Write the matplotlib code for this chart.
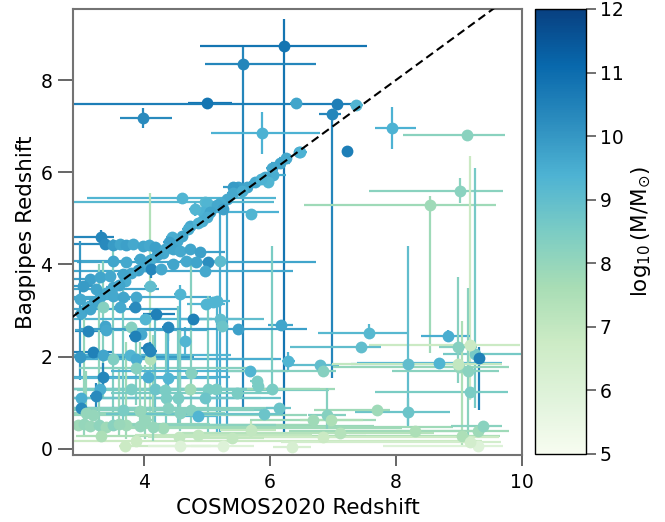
import numpy as np
import matplotlib
matplotlib.use("Agg")
import matplotlib.pyplot as plt
from matplotlib.colors import Normalize
from matplotlib.cm import ScalarMappable

# ---------------- data ----------------
# COSMOS2020 photometric redshift
cosmos_z = [
    # isolated / high-z sources
    6.22, 5.57, 5.00, 7.06, 7.37, 6.98, 3.98, 6.41, 5.87, 6.46, 7.22, 7.94, 9.13, 9.02, 8.54, 5.70, 4.97, 4.60, 9.25, 9.17, 4.10,
    # one-to-one sequence
    6.48, 6.16, 6.03, 6.05, 5.92, 5.97, 5.76, 5.63, 5.49, 5.41,
    5.41, 5.32, 5.21, 5.00, 4.94, 4.92, 4.81, 5.16, 5.05, 5.00,
    4.73, 4.70, 4.60, 4.52, 4.45, 4.40, 4.30, 4.20, 4.10, 4.00,
    3.90, 3.80, 3.70, 3.60, 3.50, 3.40, 3.30, 3.20, 3.10, 3.00,
    5.85, 6.25, 5.55, 5.25, 4.85,
    # dense band 2.2 < z_bp < 4.6
    3.32, 3.38, 3.50, 3.62, 3.72, 3.83, 3.98, 4.08, 4.17, 4.33,
    4.46, 4.57, 4.73, 4.89, 5.02, 5.21, 3.51, 3.71, 3.94, 4.11,
    4.27, 4.46, 4.67, 4.83, 4.97, 3.14, 3.30, 3.46, 3.67, 3.03,
    3.24, 3.51, 3.67, 3.87, 4.10, 2.98, 3.14, 3.35, 3.62, 3.86,
    4.19, 4.57, 4.78, 4.38, 4.02, 3.79, 5.21, 4.98, 3.11, 3.38,
    3.95, 4.65, 5.10, 5.16, 5.24, 4.06, 3.86, 3.40,
    # low bagpipes z, low cosmos z
    2.99, 3.19, 3.35, 3.51, 3.78, 3.87, 4.10, 3.87, 3.35, 4.06,
    4.38, 4.75, 3.30, 3.79, 4.17, 4.33, 4.73, 5.02, 5.14, 3.00,
    3.24, 4.35, 4.54, 4.97, 3.00, 3.67, 3.94, 4.38, 4.57, 4.75,
    4.86, 3.08, 3.19, 3.71, 3.94, 4.02, 2.95, 3.05, 3.15, 3.28,
    3.40, 3.50, 3.60, 3.32, 3.70, 3.87, 4.56, 4.86, 4.57, 5.25,
    4.30, 4.15,
    # low bagpipes z, high cosmos z
    7.57, 7.44, 8.19, 8.83, 8.68, 8.98, 9.32, 9.00, 9.14, 9.17,
    8.19, 7.70, 8.30, 9.05, 9.30, 9.38, 9.30, 6.90, 6.68, 6.97,
    7.11, 6.84, 6.35, 6.29, 6.17, 6.14, 5.90, 6.03, 5.79, 5.81,
    5.68, 6.79, 6.84, 5.70, 5.40, 5.49, 5.48, 8.98, 9.17,
]
# Bagpipes redshift
bagpipes_z = [
    8.73, 8.34, 7.50, 7.48, 7.45, 7.27, 7.18, 7.50, 6.85, 6.44, 6.47, 6.96, 6.81, 5.60, 5.28, 5.09, 5.35, 5.45, 2.05, 2.26, 1.96,
    6.44, 6.20, 6.10, 5.95, 5.90, 5.78, 5.78, 5.69, 5.67, 5.69,
    5.56, 5.41, 5.34, 5.34, 5.13, 4.94, 5.20, 5.30, 5.13, 5.02,
    4.83, 4.76, 4.62, 4.50, 4.60, 4.48, 4.25, 4.20, 4.10, 3.97,
    3.88, 3.82, 3.65, 3.55, 3.52, 3.38, 3.30, 3.18, 3.08, 2.95,
    5.85, 6.30, 5.60, 5.20, 4.90,
    4.59, 4.44, 4.42, 4.44, 4.43, 4.44, 4.40, 4.42, 4.37, 4.33,
    4.33, 4.29, 4.33, 4.27, 4.05, 4.07, 4.07, 4.05, 4.12, 3.90,
    3.90, 4.00, 4.07, 4.05, 3.86, 3.69, 3.73, 3.75, 3.79, 3.53,
    3.47, 3.32, 3.30, 3.30, 3.53, 3.25, 3.04, 3.08, 3.08, 3.08,
    2.93, 3.36, 2.82, 2.65, 2.82, 2.65, 2.82, 3.15, 2.56, 2.67,
    2.50, 2.35, 3.19, 3.21, 2.67, 2.18, 2.46, 2.57,
    2.00, 2.11, 2.03, 1.96, 2.03, 1.96, 2.13, 1.75, 1.57, 1.57,
    1.53, 1.64, 1.31, 1.31, 1.31, 1.27, 1.31, 1.31, 1.31, 1.10,
    1.14, 1.10, 1.10, 1.10, 0.88, 0.84, 0.82, 0.88, 0.78, 0.84,
    0.71, 0.78, 0.73, 0.52, 0.50, 0.62, 0.52, 0.55, 0.50, 0.52,
    0.48, 0.52, 0.55, 0.28, 0.06, 0.17, 0.26, 0.30, 0.06, 0.06,
    0.45, 0.48,
    2.52, 2.22, 1.85, 2.44, 1.87, 2.22, 1.98, 1.77, 1.70, 1.23,
    0.80, 0.84, 0.39, 0.28, 0.39, 0.50, 0.06, 0.73, 0.62, 0.62,
    0.35, 0.26, 0.04, 1.90, 2.69, 0.88, 0.75, 1.31, 1.47, 1.36,
    1.70, 1.81, 1.68, 0.41, 0.24, 2.61, 1.21, 1.85, 0.15,
]
# COSMOS2020 redshift errors (lower / upper)
cosmos_err_lo = [
    1.33, 0.60, 0.30, 4.50, 0.10, 0.20, 0.36, 0.10, 0.81, 0.05, 0.00, 0.27, 1.02, 1.45, 2.00, 0.00, 2.20, 1.50, 0.50, 1.60, 1.20,
    0.10, 0.15, 0.10, 0.20, 0.10, 0.10, 0.10, 0.10, 0.10, 0.15,
    0.10, 0.10, 0.10, 0.10, 0.10, 0.10, 0.10, 0.10, 0.10, 0.10,
    0.10, 0.10, 0.10, 0.10, 0.10, 0.10, 0.10, 0.10, 0.10, 0.10,
    0.10, 0.10, 0.10, 0.10, 0.10, 0.10, 0.10, 0.10, 0.10, 0.10,
    0.10, 0.10, 0.10, 0.10, 0.10,
    0.50, 0.60, 0.10, 0.10, 0.10, 0.10, 0.10, 0.10, 0.10, 0.10,
    0.10, 0.10, 0.10, 0.10, 0.10, 0.10, 0.70, 0.10, 0.10, 0.10,
    0.10, 0.10, 0.10, 1.90, 2.10, 0.30, 0.10, 0.10, 0.10, 0.20,
    0.40, 0.10, 0.10, 1.00, 0.10, 0.30, 0.30, 0.10, 0.10, 0.10,
    0.20, 0.10, 0.20, 0.10, 1.20, 0.10, 0.50, 0.30, 0.20, 0.10,
    0.10, 0.10, 0.10, 0.20, 0.10, 0.10, 0.10, 0.50,
    0.20, 0.30, 0.50, 0.10, 0.90, 0.90, 0.10, 0.90, 0.10, 1.20,
    1.50, 0.10, 0.60, 0.90, 0.10, 1.40, 0.50, 0.10, 2.30, 0.20,
    0.10, 1.50, 0.10, 2.10, 0.20, 0.80, 0.10, 1.50, 0.10, 1.90,
    0.30, 0.20, 0.30, 0.80, 1.00, 0.10, 0.10, 0.10, 0.10, 0.10,
    0.50, 0.10, 0.10, 0.40, 0.10, 1.00, 0.50, 1.00, 0.50, 0.50,
    1.40, 0.10,
    0.81, 1.12, 0.90, 0.43, 1.30, 0.30, 0.05, 2.00, 1.20, 1.50,
    0.84, 1.00, 1.50, 1.80, 3.00, 0.50, 1.50, 0.30, 1.00, 0.50,
    2.50, 1.80, 0.30, 0.10, 0.20, 0.20, 2.50, 0.10, 0.10, 0.10,
    2.20, 0.50, 1.50, 0.50, 0.50, 2.50, 2.00, 2.00, 3.00,
]
cosmos_err_hi = [
    1.32, 1.16, 0.40, 0.30, 0.10, 0.15, 0.46, 0.10, 0.93, 0.05, 0.00, 0.38, 0.60, 0.68, 1.05, 0.00, 1.10, 1.50, 0.80, 0.80, 2.00,
    0.10, 0.15, 0.10, 0.20, 0.10, 0.10, 0.10, 0.10, 0.10, 0.10,
    0.10, 0.10, 0.10, 0.10, 1.20, 0.10, 0.10, 0.10, 0.10, 0.10,
    0.10, 0.10, 0.10, 0.10, 0.10, 0.10, 0.10, 0.10, 0.10, 0.10,
    0.10, 0.10, 0.10, 0.10, 0.10, 0.10, 0.10, 0.10, 0.10, 0.10,
    0.10, 0.10, 0.10, 0.10, 0.10,
    0.20, 0.30, 0.10, 0.10, 0.10, 0.10, 0.10, 0.10, 0.10, 0.10,
    0.10, 0.10, 0.10, 0.40, 0.20, 0.10, 0.20, 0.10, 0.10, 0.10,
    0.10, 0.10, 0.10, 1.90, 1.40, 0.30, 0.10, 0.10, 0.10, 0.20,
    1.00, 0.10, 0.10, 1.20, 0.10, 0.80, 1.40, 0.10, 0.10, 0.10,
    0.30, 0.10, 0.30, 0.10, 1.50, 0.10, 0.70, 0.30, 0.20, 0.10,
    0.10, 0.10, 0.10, 0.20, 0.10, 0.10, 0.10, 1.60,
    1.80, 0.30, 1.30, 0.10, 1.60, 2.30, 0.10, 1.80, 0.10, 1.30,
    0.80, 0.10, 2.90, 3.00, 0.10, 2.60, 2.30, 0.10, 0.50, 2.50,
    0.10, 1.50, 0.10, 1.20, 1.50, 2.20, 0.10, 1.80, 0.10, 1.00,
    0.30, 2.20, 3.40, 3.00, 1.50, 0.10, 3.80, 2.00, 4.50, 0.10,
    5.50, 2.60, 0.10, 4.20, 1.50, 5.50, 2.50, 1.80, 0.50, 0.50,
    3.80, 0.10,
    0.60, 0.32, 0.79, 0.35, 1.00, 0.30, 0.05, 0.80, 0.50, 0.60,
    0.67, 0.20, 1.00, 0.60, 0.50, 0.30, 0.40, 0.30, 1.00, 0.50,
    1.50, 2.80, 0.30, 0.10, 0.20, 0.20, 0.30, 0.10, 0.10, 0.10,
    0.60, 0.30, 0.20, 0.40, 0.50, 1.10, 0.50, 0.70, 0.50,
]
# Bagpipes redshift errors (lower / upper)
bagpipes_err_lo = [
    8.49, 7.46, 0.05, 0.05, 0.05, 5.74, 0.22, 0.05, 0.45, 0.05, 0.00, 0.45, 0.05, 0.27, 3.20, 0.00, 0.10, 0.05, 1.17, 1.20, 1.50,
    0.08, 0.10, 0.10, 0.10, 0.10, 0.10, 0.10, 0.10, 0.10, 0.10,
    0.10, 5.00, 5.00, 0.10, 0.10, 0.10, 0.15, 0.10, 0.10, 0.10,
    0.10, 0.10, 0.10, 0.10, 0.10, 0.10, 0.10, 0.10, 0.10, 0.10,
    0.10, 0.10, 0.10, 0.10, 0.10, 0.10, 0.10, 0.10, 0.10, 0.10,
    0.10, 0.10, 0.10, 0.10, 0.10,
    0.15, 0.10, 0.10, 0.10, 0.10, 0.10, 0.10, 0.10, 0.10, 0.10,
    0.10, 0.10, 0.10, 0.10, 0.10, 0.10, 0.10, 0.10, 0.10, 0.20,
    0.10, 0.10, 0.10, 0.10, 0.10, 0.10, 0.10, 0.10, 0.10, 0.10,
    0.10, 0.10, 0.10, 0.10, 0.10, 0.10, 0.10, 2.00, 0.10, 0.10,
    0.10, 2.50, 0.10, 0.30, 0.10, 0.10, 0.10, 0.10, 0.10, 0.10,
    0.10, 0.30, 0.10, 2.90, 0.10, 0.10, 0.10, 0.10,
    0.50, 0.10, 0.10, 1.40, 0.10, 0.10, 0.30, 0.80, 0.20, 0.10,
    0.80, 1.20, 0.10, 0.10, 0.80, 0.10, 0.10, 1.00, 0.10, 0.10,
    0.30, 0.60, 0.60, 0.10, 0.10, 0.40, 0.30, 0.10, 0.40, 0.10,
    0.10, 0.30, 0.10, 0.30, 0.10, 0.40, 0.10, 0.30, 0.10, 0.30,
    0.10, 0.10, 0.30, 0.10, 0.05, 0.10, 0.10, 0.10, 0.05, 0.05,
    0.10, 0.30,
    0.10, 0.05, 1.33, 0.05, 0.05, 0.80, 1.14, 0.05, 1.50, 0.10,
    0.30, 0.05, 0.05, 0.20, 0.10, 0.10, 0.05, 0.30, 0.05, 0.05,
    0.10, 0.05, 0.04, 0.20, 0.05, 0.10, 0.10, 0.10, 0.10, 0.10,
    0.05, 0.05, 0.05, 0.20, 0.05, 0.05, 0.05, 0.05, 0.05,
]
bagpipes_err_hi = [
    0.60, 0.37, 0.05, 0.05, 0.05, 0.05, 0.22, 0.05, 0.45, 0.05, 0.00, 0.45, 0.05, 0.27, 0.20, 0.00, 0.10, 0.05, 4.05, 4.10, 3.60,
    0.08, 0.10, 0.10, 0.10, 0.10, 0.10, 0.10, 0.10, 0.10, 0.10,
    0.10, 0.10, 0.10, 0.10, 0.10, 0.10, 0.15, 0.10, 0.10, 0.10,
    0.10, 0.10, 0.10, 0.10, 0.10, 0.10, 0.10, 0.10, 0.10, 0.10,
    0.10, 0.10, 0.10, 0.10, 0.10, 0.10, 0.10, 0.10, 0.10, 0.10,
    0.10, 0.10, 0.10, 0.10, 0.10,
    0.15, 0.10, 0.10, 0.10, 0.10, 0.10, 0.10, 0.10, 0.10, 0.10,
    0.10, 0.10, 0.10, 0.10, 0.10, 0.10, 0.10, 0.10, 0.10, 0.20,
    0.10, 0.10, 0.10, 0.10, 0.10, 0.10, 0.10, 0.10, 0.10, 0.10,
    0.10, 0.10, 0.10, 0.10, 0.10, 0.10, 0.10, 1.00, 0.10, 0.10,
    0.10, 0.20, 0.10, 0.10, 0.10, 0.10, 0.10, 0.10, 0.10, 0.10,
    0.10, 0.30, 0.10, 0.10, 0.10, 0.10, 0.10, 0.10,
    2.50, 0.10, 0.10, 2.60, 0.10, 0.10, 0.20, 0.80, 0.30, 0.10,
    1.20, 2.50, 0.10, 0.10, 1.50, 0.10, 0.10, 2.00, 0.10, 0.10,
    0.30, 1.60, 2.00, 0.10, 0.10, 3.00, 1.50, 0.10, 1.80, 0.10,
    0.10, 0.90, 0.10, 1.80, 0.10, 1.20, 0.10, 2.50, 0.10, 3.50,
    0.10, 0.10, 1.20, 0.10, 0.05, 0.10, 0.10, 0.10, 0.05, 0.05,
    0.10, 2.00,
    0.20, 0.05, 2.55, 0.15, 0.05, 1.50, 0.24, 0.05, 1.80, 0.10,
    0.30, 0.05, 0.05, 2.50, 0.10, 0.10, 0.05, 0.60, 0.05, 0.05,
    0.10, 0.05, 0.05, 0.20, 0.05, 0.10, 0.10, 3.10, 0.10, 0.10,
    0.05, 0.05, 0.05, 0.20, 0.05, 0.05, 0.05, 0.05, 0.05,
]
# stellar mass, log10(M/Msun)
log_mass = [
    10.8, 10.4, 10.8, 10.6, 9.3, 10.4, 10.3, 9.7, 9.4, 9.6, 10.6, 9.4, 8.2, 8.2, 7.8, 9.3, 9.2, 9.3, 8.6, 6.8, 7.4,
    9.4, 9.7, 9.6, 9.5, 9.6, 9.3, 9.6, 9.7, 9.8, 9.9,
    9.6, 9.6, 9.5, 9.3, 9.4, 9.5, 9.3, 9.6, 9.7, 9.5,
    9.6, 9.5, 9.7, 9.6, 9.5, 9.8, 9.6, 9.7, 9.5, 9.6,
    9.8, 9.6, 9.5, 9.7, 9.6, 9.5, 9.6, 9.7, 9.5, 9.6,
    9.4, 9.6, 9.5, 9.8, 9.4,
    10.4, 10.3, 9.9, 9.7, 9.8, 9.6, 9.7, 9.6, 9.8, 9.6,
    9.7, 9.6, 9.7, 9.8, 10.2, 9.1, 9.7, 9.6, 9.7, 10.4,
    9.6, 9.7, 9.6, 9.7, 9.6, 9.8, 9.7, 9.6, 9.7, 9.9,
    9.7, 9.6, 9.7, 9.6, 9.0, 9.6, 9.7, 8.3, 9.6, 10.3,
    10.5, 9.3, 10.5, 10.4, 9.3, 8.3, 9.0, 9.3, 10.4, 9.7,
    9.6, 9.3, 9.3, 9.3, 8.8, 10.5, 10.5, 9.6,
    10.0, 10.5, 9.7, 8.4, 9.3, 9.5, 10.4, 8.3, 10.4, 9.5,
    9.3, 8.3, 9.5, 8.5, 8.8, 8.5, 7.8, 8.5, 8.5, 9.5,
    10.3, 8.5, 8.5, 8.8, 10.3, 8.5, 8.0, 8.3, 8.3, 8.3,
    9.3, 8.0, 8.0, 7.8, 8.0, 8.0, 7.8, 8.0, 7.9, 8.1,
    7.8, 8.2, 7.9, 7.5, 6.8, 6.8, 7.0, 7.0, 6.0, 6.0,
    7.8, 8.0,
    9.2, 9.0, 9.0, 9.5, 9.3, 8.3, 10.5, 8.0, 8.2, 8.5,
    8.8, 7.8, 7.5, 7.5, 7.8, 8.2, 6.0, 8.3, 7.8, 7.5,
    7.3, 6.8, 6.3, 9.3, 9.7, 8.8, 8.8, 8.5, 8.5, 8.5,
    9.3, 9.0, 8.3, 7.0, 7.0, 9.8, 8.5, 7.0, 6.5,
]
mass_ticks = [5, 6, 7, 8, 9, 10, 11, 12]
x_ticks = [4, 6, 8, 10]
y_ticks = [0, 2, 4, 6, 8]

n = len(cosmos_z)
for arr in (bagpipes_z, cosmos_err_lo, cosmos_err_hi, bagpipes_err_lo, bagpipes_err_hi, log_mass):
    assert len(arr) == n, (len(arr), n)

# ---------------- figure ----------------
fig = plt.figure(figsize=(6.65, 5.22), dpi=100)
ax = fig.add_axes([0.1098, 0.1284, 0.6752, 0.8544])
cax = fig.add_axes([0.8045, 0.1303, 0.0767, 0.8525])

cmap = plt.get_cmap("GnBu")
norm = Normalize(vmin=5, vmax=12)

for i in range(n):
    c = cmap(norm(log_mass[i]))
    ax.errorbar(cosmos_z[i], bagpipes_z[i],
                xerr=[[cosmos_err_lo[i]], [cosmos_err_hi[i]]],
                yerr=[[bagpipes_err_lo[i]], [bagpipes_err_hi[i]]],
                fmt="o", color=c, ecolor=c, ms=8.5, mew=0,
                elinewidth=1.6, capsize=0, zorder=2)

ax.plot([0, 12], [0, 12], ls=(0, (4, 2.2)), color="black", lw=1.5, zorder=5)

ax.set_xlim(2.873, 10.0)
ax.set_ylim(-0.13, 9.54)
ax.set_xticks(x_ticks)
ax.set_yticks(y_ticks)
ax.tick_params(axis="x", length=8, width=1.3, color="0.35", labelsize=13.5, pad=5)
ax.tick_params(axis="y", length=11, width=1.3, color="0.35", labelsize=13.5, pad=4)
for s in ax.spines.values():
    s.set_color("0.45")
    s.set_linewidth(1.5)
ax.set_xlabel("COSMOS2020 Redshift", fontsize=15.5, labelpad=4)
ax.set_ylabel("Bagpipes Redshift", fontsize=15.5, labelpad=3)

sm = ScalarMappable(norm=norm, cmap=cmap)
cb = fig.colorbar(sm, cax=cax, ticks=mass_ticks)
cb.outline.set_edgecolor("black")
cb.outline.set_linewidth(1.0)
cb.ax.tick_params(length=7, width=1.2, color="0.35", labelsize=13.5, pad=3)
cb.set_label(r"$\log_{10}(\mathrm{M}/\mathrm{M}_{\odot})$", fontsize=15.5, labelpad=4)

fig.savefig("out.png", dpi=100)
